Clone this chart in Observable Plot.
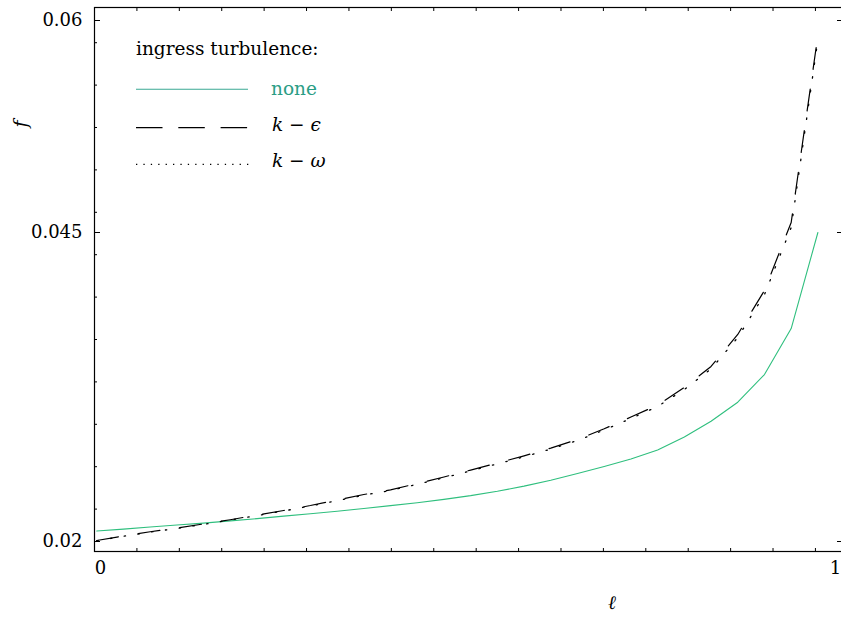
<!DOCTYPE html>
<html>
<head>
<meta charset="utf-8">
<script src="https://cdn.jsdelivr.net/npm/d3@7"></script>
<script src="https://cdn.jsdelivr.net/npm/@observablehq/plot@0.6"></script>
<style>
  html, body { margin: 0; padding: 0; background: #fff; overflow: hidden; }
  #chart svg { display: block; }
</style>
</head>
<body>
<div id="chart"></div>
<script>
// ---- data ----
const xs = [0.003, 0.0389, 0.0748, 0.1107, 0.1466, 0.1825, 0.2184, 0.2543, 0.2902, 0.3261,
            0.3620, 0.3979, 0.4338, 0.4697, 0.5056, 0.5415, 0.5774, 0.6133, 0.6492, 0.6851,
            0.7210, 0.7569, 0.7928, 0.8287, 0.8646, 0.9005, 0.9364, 0.9723];
const fNone = [0.02085, 0.02100, 0.02117, 0.02133, 0.02149, 0.02167, 0.02185, 0.02205, 0.02224, 0.02245,
               0.02267, 0.02290, 0.02314, 0.02341, 0.02371, 0.02406, 0.02448, 0.02495, 0.02550, 0.02607,
               0.02667, 0.02740, 0.02845, 0.02973, 0.03127, 0.03351, 0.03723, 0.04500];
const fKEps = [0.02008, 0.02045, 0.02079, 0.02109, 0.02142, 0.02176, 0.02214, 0.02251, 0.02291, 0.02336,
               0.02380, 0.02418, 0.02469, 0.02522, 0.02578, 0.02635, 0.02693, 0.02756, 0.02825, 0.02912,
               0.03007, 0.03104, 0.03246, 0.03416, 0.03675, 0.04031, 0.04571, 0.05895];
const fKOmega = [0.02006, 0.02042, 0.02076, 0.02106, 0.02139, 0.02173, 0.02210, 0.02247, 0.02287, 0.02331,
                 0.02375, 0.02413, 0.02463, 0.02516, 0.02571, 0.02628, 0.02685, 0.02748, 0.02817, 0.02902,
                 0.02995, 0.03092, 0.03230, 0.03396, 0.03650, 0.03998, 0.04535, 0.05865];

const yMajor = [0.02, 0.045, 0.06];
const yTickLabels = ["0.02", "0.045", "0.06"];
const yMinor = [0.058429, 0.055429, 0.052429, 0.049429, 0.046429, 0.043204, 0.039773,
                0.036343, 0.032913, 0.029482, 0.026052, 0.022621];
const xMajor = [0, 1];
const xTickLabels = ["0", "1"];
const xMinor = [0.057, 0.114, 0.171, 0.228, 0.285, 0.342, 0.399, 0.456, 0.513, 0.570,
                0.627, 0.684, 0.741, 0.798, 0.855, 0.912, 0.969];

const seriesNames = ["none", "k-eps", "k-omega"];
const legendTitle = "ingress turbulence:";
const xLabel = "\u2113";
const yLabel = "f";

// ---- build table ----
const rows = [];
[fNone, fKEps, fKOmega].forEach((arr, s) => {
  arr.forEach((v, i) => rows.push({series: seriesNames[s], x: xs[i], f: v}));
});
const bySeries = name => rows.filter(d => d.series === name);

const GREEN = "#2fbf7e";
const W = 841, H = 618;

const svg = Plot.plot({
  width: W,
  height: H,
  marginLeft: 94,
  marginTop: 7,
  marginBottom: 67,
  marginRight: -1,
  style: {fontFamily: "'DejaVu Serif', serif", fontSize: "18px", background: "#fff", color: "#000"},
  x: {type: "linear", domain: [0, 1], range: [94, 838], axis: null},
  y: {type: "linear", domain: [0.01919, 0.02, 0.045, 0.06, 0.06092], range: [551, 541, 232, 20, 7], axis: null},
  marks: [
    Plot.line(bySeries("none"), {x: "x", y: "f", stroke: GREEN, strokeWidth: 1.1}),
    Plot.line(bySeries("k-eps"), {x: "x", y: "f", stroke: "#000", strokeWidth: 1.2, strokeDasharray: "22,20"}),
    Plot.line(bySeries("k-omega"), {x: "x", y: "f", stroke: "#000", strokeWidth: 1.3, strokeDasharray: "1.4,12.5"}),
    Plot.frame({stroke: "#000", strokeWidth: 1.2}),
    // major y ticks (inward) left and right
    Plot.axisY(yMajor, {anchor: "left", tickSize: -6, tickFormat: () => "", label: null}),
    Plot.axisY(yMajor, {anchor: "right", tickSize: -6, tickFormat: () => "", label: null}),
    // minor y ticks
    Plot.axisY(yMinor, {anchor: "left", tickSize: -3, tickFormat: () => "", label: null}),
    // y tick labels
    Plot.axisY(yMajor, {anchor: "left", tickSize: 0, tickPadding: 12, tickFormat: d => yTickLabels[yMajor.indexOf(d)], label: null, fontSize: 18}),
    // minor x ticks bottom and top
    Plot.axisX(xMinor, {anchor: "bottom", tickSize: -3, tickFormat: () => "", label: null}),
    Plot.axisX(xMinor, {anchor: "top", tickSize: -3, tickFormat: () => "", label: null}),
    // x tick labels
    Plot.axisX([xMajor[0]], {anchor: "bottom", tickSize: 0, tickPadding: 10, dx: 6, tickFormat: () => xTickLabels[0], label: null, fontSize: 18}),
    Plot.axisX([xMajor[1]], {anchor: "bottom", tickSize: 0, tickPadding: 10, dx: -3, tickFormat: () => xTickLabels[1], label: null, fontSize: 18})
  ]
});

document.getElementById("chart").appendChild(svg);

// ---- axis titles and legend ----
const root = d3.select(svg);
const serif = "'DejaVu Serif', serif";

root.append("text")
  .attr("transform", "translate(20,124) rotate(-90)")
  .attr("text-anchor", "middle").attr("dy", "0.35em")
  .attr("font-family", serif).attr("font-style", "italic").attr("font-size", 19)
  .attr("fill", "#000")
  .text(yLabel);

root.append("text")
  .attr("x", 612).attr("y", 602)
  .attr("text-anchor", "middle").attr("dy", "0.35em")
  .attr("font-family", serif).attr("font-style", "italic").attr("font-size", 19)
  .attr("fill", "#000")
  .text(xLabel);

const lg = root.append("g").attr("font-family", serif).attr("font-size", 18.5).attr("text-anchor", "start");
lg.append("text").attr("x", 136).attr("y", 49).attr("dy", "0.35em").attr("fill", "#000").text(legendTitle);

lg.append("line").attr("x1", 136).attr("x2", 248).attr("y1", 89.3).attr("y2", 89.3)
  .attr("stroke", "#3aa993").attr("stroke-width", 1.1);
lg.append("text").attr("x", 271).attr("y", 89).attr("dy", "0.35em").attr("fill", "#2a9d85").text(seriesNames[0]);

lg.append("line").attr("x1", 136).attr("x2", 248).attr("y1", 127.7).attr("y2", 127.7)
  .attr("stroke", "#000").attr("stroke-width", 1.2).attr("stroke-dasharray", "26.5,15.8");
const t2 = lg.append("text").attr("x", 272).attr("y", 125).attr("dy", "0.35em").attr("fill", "#000");
t2.append("tspan").attr("font-style", "italic").text("k");
t2.append("tspan").text(" \u2212 ");
t2.append("tspan").attr("font-style", "italic").text("\u03F5");

lg.append("line").attr("x1", 136).attr("x2", 250).attr("y1", 164.3).attr("y2", 164.3)
  .attr("stroke", "#000").attr("stroke-width", 1.3).attr("stroke-dasharray", "1.3,6.1");
const t3 = lg.append("text").attr("x", 272).attr("y", 161).attr("dy", "0.35em").attr("fill", "#000");
t3.append("tspan").attr("font-style", "italic").text("k");
t3.append("tspan").text(" \u2212 ");
t3.append("tspan").attr("font-style", "italic").text("\u03C9");
</script>
</body>
</html>
